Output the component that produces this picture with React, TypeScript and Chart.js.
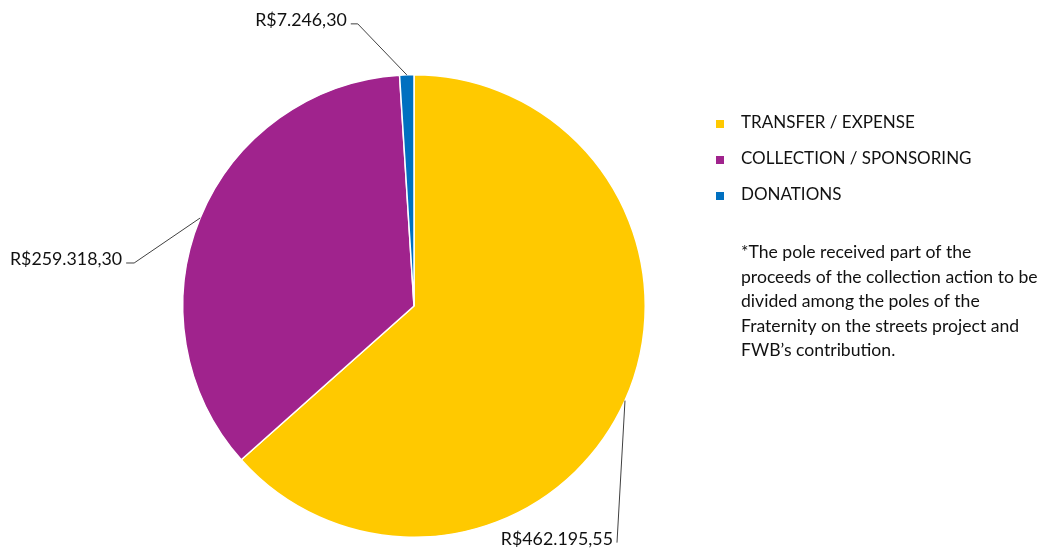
import React, { useEffect, useRef } from "react";
import { Chart, registerables } from "chart.js";

Chart.register(...registerables);

// ---- data ----
const categories = ["TRANSFER / EXPENSE", "COLLECTION / SPONSORING", "DONATIONS"];
const values = [462195.55, 259318.3, 7246.3];
const valueLabels = ["R$462.195,55", "R$259.318,30", "R$7.246,30"];
const sliceColors = ["#FFC900", "#A0238D", "#0070C0"];
const noteLines = [
  "*The pole received part of the",
  "proceeds of the collection action to be",
  "divided among the poles of the",
  "Fraternity on the streets project and",
  "FWB\u2019s contribution.",
];

// ---- layout (styling only) ----
const FONT = "Lato, 'Open Sans', sans-serif";
const LABEL_FONT_SIZE = 17.8;
const LEGEND_FONT_SIZE = 17;
const NOTE_FONT_SIZE = 17.6;
// leader line offsets relative to slice edge point: elbow dx/dy, horizontal tail length
const leaderLayout = [
  { dx: -8, dy: 142, tail: 0 },
  { dx: -66, dy: 45, tail: 8 },
  { dx: -49, dy: -51, tail: 7 },
];
const legendX = 716;
const legendTextX = 741;
const legendBaseline0 = 128;
const legendStep = 36;
const noteBaseline0 = 258;
const noteStep = 24.5;

const overlayPlugin = {
  id: "overlay",
  afterDraw(chart: any) {
    const ctx = chart.ctx as CanvasRenderingContext2D;
    const meta = chart.getDatasetMeta(0);
    ctx.save();
    // leader lines + value labels
    meta.data.forEach((arc: any, i: number) => {
      const p = arc.getProps(["x", "y", "startAngle", "endAngle", "outerRadius"], true);
      const mid = (p.startAngle + p.endAngle) / 2;
      const ex = p.x + Math.cos(mid) * p.outerRadius;
      const ey = p.y + Math.sin(mid) * p.outerRadius;
      const L = leaderLayout[i];
      const bx = ex + L.dx;
      const by = ey + L.dy;
      const tx = bx - L.tail;
      ctx.strokeStyle = "#404040";
      ctx.lineWidth = 1;
      ctx.beginPath();
      ctx.moveTo(ex, ey);
      ctx.lineTo(bx, by);
      if (L.tail > 0) ctx.lineTo(tx, by);
      ctx.stroke();
      ctx.fillStyle = "#111111";
      ctx.font = `${LABEL_FONT_SIZE}px ${FONT}`;
      ctx.textAlign = "right";
      ctx.textBaseline = "alphabetic";
      ctx.fillText(valueLabels[i], tx - 4, by + 2);
    });
    // legend
    ctx.textAlign = "left";
    ctx.font = `${LEGEND_FONT_SIZE}px ${FONT}`;
    categories.forEach((c, i) => {
      const base = legendBaseline0 + i * legendStep;
      ctx.fillStyle = sliceColors[i];
      ctx.fillRect(legendX, base - 8, 8, 8);
      ctx.fillStyle = "#111111";
      ctx.fillText(c, legendTextX, base);
    });
    // note
    ctx.font = `${NOTE_FONT_SIZE}px ${FONT}`;
    noteLines.forEach((t, i) => {
      ctx.fillText(t, legendTextX, noteBaseline0 + i * noteStep);
    });
    ctx.restore();
  },
};

export default function App() {
  const ref = useRef<HTMLCanvasElement | null>(null);
  useEffect(() => {
    if (!ref.current) return;
    const chart = new Chart(ref.current, {
      type: "pie",
      data: {
        labels: categories,
        datasets: [
          {
            data: values,
            backgroundColor: sliceColors,
            borderColor: "#ffffff",
            borderWidth: 1.5,
          },
        ],
      },
      options: {
        responsive: false,
        animation: false,
        layout: { padding: { top: 74, bottom: 10, left: 182, right: 412 } },
        plugins: {
          legend: { display: false },
          tooltip: { enabled: false },
        },
      },
      plugins: [overlayPlugin],
    });
    return () => chart.destroy();
  }, []);
  return (
    <div style={{ position: "absolute", left: 0, top: 0, width: 1058, height: 548, background: "#fff" }}>
      <canvas ref={ref} width={1058} height={548} />
    </div>
  );
}
